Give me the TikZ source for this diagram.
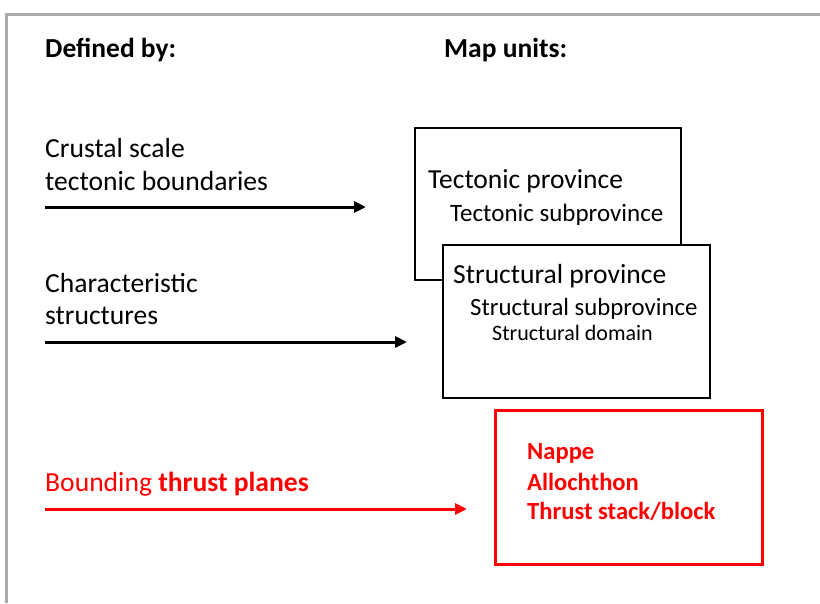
\documentclass[tikz,border=0pt]{standalone}
\usepackage{fontspec}
\setmainfont{Carlito}
\usetikzlibrary{arrows.meta}
\definecolor{framegray}{HTML}{AAAAAA}
\definecolor{pured}{HTML}{FF0000}
\tikzset{
  lbl/.style={anchor=base west, inner sep=0pt, font=\fontsize{27.6}{33}\selectfont},
  head/.style={anchor=base west, inner sep=0pt, font=\fontsize{27.5}{33}\selectfont\bfseries},
  arr/.style={line width=3pt, -{Triangle[length=12pt,width=11pt]}},
  unitbox/.style={draw=black, line width=1.5pt},
  redtxt/.style={anchor=base west, inner sep=0pt, text=pured, font=\fontsize{24.6}{29}\selectfont\bfseries},
}
\begin{document}
\begin{tikzpicture}[x=1pt,y=-1pt]
\useasboundingbox (0,0) rectangle (820,603);
% frame
\draw[framegray, line width=3pt] (6,603) -- (6,14.5) -- (820,14.5);
% headings
\node[head] (defby) at (45,57) {Defined by:};
\node[head] (mapu) at (444,57) {Map units:};
% left labels
\node[lbl] (crust1) at (45,157) {Crustal scale};
\node[lbl] (crust2) at (45,190) {tectonic boundaries};
\node[lbl] (char1) at (45,292) {Characteristic};
\node[lbl] (char2) at (45,324) {structures};
\node[lbl, text=pured] (bound) at (45,491) {Bounding \textbf{thrust planes}};
% arrows
\coordinate (a1s) at (45,207); \coordinate (a1e) at (366,207);
\coordinate (a2s) at (45,342); \coordinate (a2e) at (407,342);
\coordinate (a3s) at (45,509); \coordinate (a3e) at (467,509);
\draw[arr] (a1s) -- (a1e);
\draw[arr] (a2s) -- (a2e);
\draw[arr, pured] (a3s) -- (a3e);
% boxes
\node[unitbox, minimum width=266pt, minimum height=152pt, anchor=north west] (tbox) at (414,127) {};
\node[unitbox, fill=white, minimum width=267pt, minimum height=153pt, anchor=north west] (sbox) at (442,244) {};
\node[anchor=base west, inner sep=0pt, font=\fontsize{27.5}{33}\selectfont] (tp) at (428,188) {Tectonic province};
\node[anchor=base west, inner sep=0pt, font=\fontsize{25}{30}\selectfont] (tsp) at (450,221) {Tectonic subprovince};
\node[anchor=base west, inner sep=0pt, font=\fontsize{27.6}{33}\selectfont] (sp) at (453,283) {Structural province};
\node[anchor=base west, inner sep=0pt, font=\fontsize{24.8}{30}\selectfont] (ssp) at (470,315) {Structural subprovince};
\node[anchor=base west, inner sep=0pt, font=\fontsize{22}{26}\selectfont] (sd) at (492,340) {Structural domain};
% red box
\node[draw=pured, line width=3pt, minimum width=267pt, minimum height=154pt, anchor=north west] (rbox) at (494,409) {};
\node[redtxt] (nappe) at (527,459) {Nappe};
\node[redtxt] (allo) at (527,490) {Allochthon};
\node[redtxt] (stack) at (527,519) {Thrust stack/block};
\end{tikzpicture}
\end{document}
